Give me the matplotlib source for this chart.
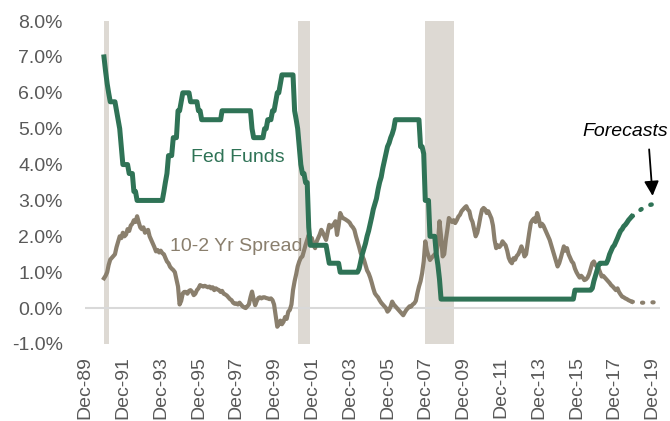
import numpy as np
import pandas as pd
from matplotlib import pyplot as plt
import matplotlib.dates as mdates

plt.rcParams['font.family'] = ['Liberation Sans', 'DejaVu Sans']

# monthly values, Dec-1990 .. Nov-2018
fed_funds = (
    [7.0]
    + [6.6, 6.25, 6.0, 5.75, 5.75, 5.75, 5.75, 5.5, 5.25, 5.0, 4.5, 4.0]
    + [4.0, 4.0, 4.0, 3.75, 3.75, 3.75, 3.25, 3.25, 3.0, 3.0, 3.0, 3.0]
    + [3.0] * 12
    + [3.0, 3.25, 3.5, 3.75, 4.25, 4.25, 4.25, 4.75, 4.75, 4.75, 5.5, 5.5]
    + [5.75, 6.0, 6.0, 6.0, 6.0, 6.0, 5.75, 5.75, 5.75, 5.75, 5.75, 5.5]
    + [5.5] + [5.25] * 11
    + [5.25, 5.25] + [5.5] * 10
    + [5.5] * 9 + [5.0, 4.75, 4.75]
    + [4.75] * 5 + [5.0, 5.0, 5.25, 5.25, 5.25, 5.5, 5.5]
    + [5.75, 6.0, 6.0, 6.25, 6.5, 6.5, 6.5, 6.5, 6.5, 6.5, 6.5, 6.5]
    + [5.5, 5.25, 5.0, 4.5, 4.0, 3.75, 3.75, 3.5, 3.5, 2.25, 1.75, 1.75]
    + [1.75] * 9 + [1.5, 1.25, 1.25]
    + [1.25] * 5 + [1.0] * 7
    + [1.0] * 5 + [1.1, 1.3, 1.5, 1.65, 1.8, 2.0, 2.15]
    + [2.35, 2.55, 2.75, 2.9, 3.05, 3.3, 3.5, 3.65, 3.9, 4.1, 4.3, 4.5]
    + [4.6, 4.75, 4.85, 5.0] + [5.25] * 8
    + [5.25] * 8 + [4.5, 4.5, 4.3, 3.0]
    + [3.0, 3.0, 2.0, 2.0, 2.0, 2.0, 1.5, 1.2, 0.8, 0.25, 0.25, 0.25]
    + [0.25] * 72
    + [0.25] * 10 + [0.5, 0.5]
    + [0.5] * 9 + [0.55, 0.75, 0.9]
    + [1.05, 1.2, 1.25, 1.25, 1.25, 1.25, 1.25, 1.35, 1.5, 1.6, 1.7, 1.75]
    + [1.85, 1.95, 2.05, 2.15, 2.2, 2.28, 2.32, 2.38, 2.45, 2.5, 2.55]
)

spread = (
    [0.83]
    + [0.9, 1.0, 1.2, 1.35, 1.4, 1.45, 1.5, 1.7, 1.85, 2.0, 1.95, 2.1]
    + [2.0, 2.05, 2.2, 2.15, 2.3, 2.35, 2.45, 2.4, 2.56, 2.4, 2.25, 2.2]
    + [2.25, 2.1, 2.15, 2.18, 2.0, 1.9, 1.8, 1.7, 1.58, 1.62, 1.55, 1.6]
    + [1.53, 1.5, 1.4, 1.3, 1.25, 1.15, 1.1, 1.06, 1.0, 0.8, 0.6, 0.1]
    + [0.2, 0.41, 0.45, 0.45, 0.4, 0.48, 0.5, 0.45, 0.36, 0.4, 0.5, 0.55]
    + [0.64, 0.62, 0.6, 0.62, 0.6, 0.58, 0.6, 0.55, 0.58, 0.5, 0.55, 0.52]
    + [0.5, 0.45, 0.48, 0.4, 0.38, 0.35, 0.3, 0.25, 0.22, 0.15, 0.12, 0.13]
    + [0.1, 0.15, 0.1, 0.05, 0.02, 0.0, 0.05, 0.1, 0.3, 0.46, 0.25, 0.08]
    + [0.2, 0.28, 0.3, 0.27, 0.3, 0.3, 0.28, 0.27, 0.25, 0.27, 0.22, 0.1]
    + [-0.2, -0.52, -0.45, -0.35, -0.45, -0.38, -0.25, -0.3, -0.1, -0.05, 0.1, 0.5]
    + [0.75, 0.95, 1.16, 1.3, 1.4, 1.44, 1.6, 1.76, 1.9, 2.04, 1.85, 1.95]
    + [1.75, 1.67, 1.85, 1.95, 2.05, 2.18, 2.1, 2.0, 1.9, 2.1, 2.32, 2.25]
    + [2.3, 2.35, 2.42, 2.04, 2.3, 2.65, 2.55, 2.5, 2.48, 2.45, 2.42, 2.38]
    + [2.3, 2.25, 2.18, 2.0, 1.85, 1.7, 1.53, 1.45, 1.35, 1.2, 1.05, 0.97]
    + [0.85, 0.7, 0.55, 0.41, 0.35, 0.3, 0.22, 0.15, 0.1, 0.05, 0.0, -0.1]
    + [-0.05, 0.05, 0.18, 0.1, 0.05, 0.0, -0.05, -0.1, -0.15, -0.2, -0.12, -0.05]
    + [0.0, 0.05, 0.04, 0.1, 0.13, 0.2, 0.41, 0.6, 0.75, 0.97, 1.3, 1.86]
    + [1.6, 1.45, 1.34, 1.4, 1.45, 1.5, 1.53, 1.8, 2.42, 2.0, 1.44, 1.5]
    + [1.9, 2.2, 2.51, 2.45, 2.4, 2.45, 2.37, 2.45, 2.55, 2.6, 2.7, 2.75]
    + [2.8, 2.84, 2.75, 2.7, 2.5, 2.4, 2.2, 2.0, 2.1, 2.3, 2.55, 2.74]
    + [2.79, 2.75, 2.65, 2.7, 2.6, 2.5, 2.3, 1.9, 1.67, 1.75, 1.7, 1.75]
    + [1.86, 1.8, 1.75, 1.6, 1.4, 1.3, 1.25, 1.39, 1.35, 1.45, 1.5, 1.6]
    + [1.72, 1.6, 1.44, 1.5, 1.8, 2.1, 2.37, 2.45, 2.5, 2.4, 2.65, 2.5]
    + [2.28, 2.35, 2.3, 2.2, 2.1, 2.0, 1.9, 1.75, 1.6, 1.45, 1.3, 1.16]
    + [1.25, 1.4, 1.55, 1.72, 1.6, 1.67, 1.5, 1.4, 1.3, 1.25, 1.1, 1.0]
    + [0.92, 0.85, 0.9, 0.85, 0.78, 0.8, 0.85, 0.95, 1.1, 1.25, 1.3, 1.2]
    + [1.15, 1.1, 1.0, 0.88, 0.9, 0.85, 0.8, 0.75, 0.7, 0.64, 0.6, 0.55]
    + [0.5, 0.55, 0.45, 0.38, 0.32, 0.3, 0.27, 0.25, 0.22, 0.2, 0.18]
)

months = pd.date_range('1990-12-01', periods=len(fed_funds), freq='MS')

fc_dates = pd.to_datetime(['2018-11-01', '2019-02-01', '2019-05-01', '2019-08-01', '2019-11-01', '2020-01-15'])
fc_fed = [2.55, 2.65, 2.75, 2.82, 2.88, 2.9]
fc_spread = [0.18, 0.16, 0.15, 0.15, 0.16, 0.16]

recessions = [('1990-12-01', '1991-03-01'), ('2001-03-01', '2001-11-01'), ('2007-12-01', '2009-06-01')]

green = '#2f7356'
brown = '#8a7f6d'
grey = '#595959'

fig = plt.figure(figsize=(6.7, 4.21), dpi=100)
ax = fig.add_axes([0.127, 0.183, 0.858, 0.767])

for start, stop in recessions:
    ax.axvspan(pd.Timestamp(start), pd.Timestamp(stop), color='#ddd9d3', lw=0, zorder=0)

ax.axhline(0, color='#d9d9d9', lw=1.5, zorder=1)

ax.plot(months, spread, color=brown, lw=3.0, solid_joinstyle='round', zorder=3)
ax.plot(months, fed_funds, color=green, lw=3.6, solid_joinstyle='round', zorder=4)
ax.plot(fc_dates, fc_spread, color=brown, lw=3.0, ls=(0, (0.3, 2.2)), dash_capstyle='round', zorder=3)
ax.plot(fc_dates, fc_fed, color=green, lw=3.2, ls=(0, (0.3, 2.2)), dash_capstyle='round', zorder=4)

ax.set_ylim(-1, 8)
ax.set_yticks(np.arange(-1, 9, 1))
ax.yaxis.set_major_formatter(plt.FuncFormatter(lambda v, p: f'{v:.1f}%'))
ax.set_xlim(pd.Timestamp('1989-12-01'), pd.Timestamp('2020-05-01'))
ticks = pd.date_range('1989-12-01', '2019-12-01', freq='24MS')
ax.set_xticks(ticks)
ax.xaxis.set_major_formatter(mdates.DateFormatter('%b-%y'))
ax.tick_params(axis='both', length=0, labelsize=14, labelcolor=grey)
ax.tick_params(axis='x', rotation=90, pad=9)
ax.tick_params(axis='y', pad=16)
for s in ax.spines.values():
    s.set_visible(False)

ax.text(pd.Timestamp('1998-01-01'), 4.2, 'Fed Funds', color=green, fontsize=14, ha='center', va='center')
ax.text(pd.Timestamp('1997-12-01'), 1.71, '10-2 Yr Spread', color=brown, fontsize=14, ha='center', va='center')
ax.text(pd.Timestamp('2018-07-01'), 4.93, 'Forecasts', color='black', fontsize=14, style='italic',
        ha='center', va='center')
ax.annotate('', xy=(pd.Timestamp('2019-12-15'), 3.05), xytext=(pd.Timestamp('2019-10-01'), 4.5),
            arrowprops=dict(arrowstyle='-|>', color='black', lw=1.3, mutation_scale=22))

fig.savefig('out.png', dpi=100)
